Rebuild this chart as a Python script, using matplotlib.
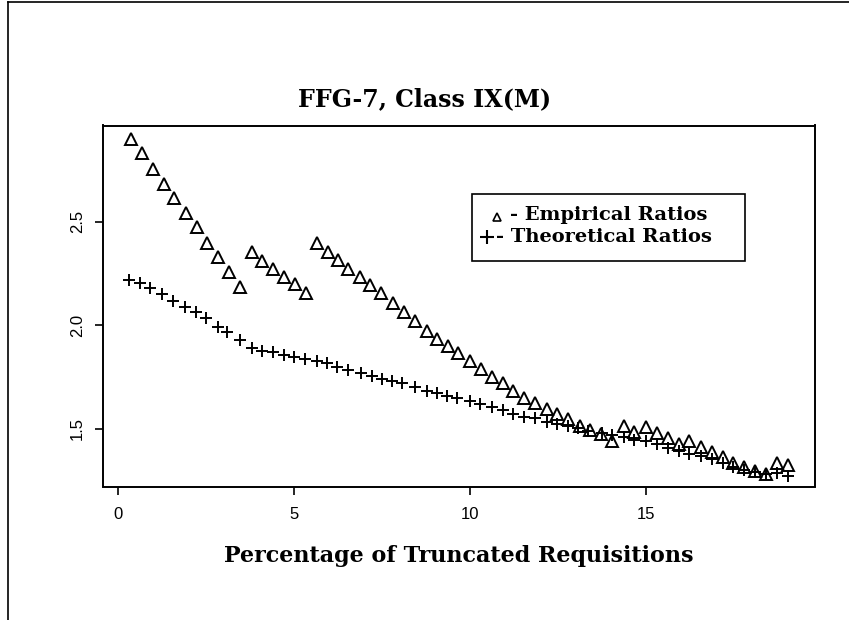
import matplotlib
matplotlib.use("Agg")
import matplotlib.pyplot as plt
from matplotlib.lines import Line2D
from matplotlib.patches import Rectangle

# percentage of truncated requisitions
EMP_X = [0.35, 0.68, 0.97, 1.30, 1.59, 1.92, 2.23, 2.51, 2.84, 3.13, 3.46,
         3.79, 4.07, 4.39, 4.69, 5.02, 5.33,
         5.64, 5.94, 6.23, 6.51, 6.85, 7.15, 7.45, 7.80, 8.10, 8.43, 8.76,
         9.06, 9.35, 9.66, 9.99, 10.30, 10.61, 10.92, 11.22, 11.53, 11.84,
         12.17, 12.47, 12.78, 13.10, 13.40, 13.70, 14.03, 14.35, 14.65,
         14.98, 15.30, 15.61, 15.92, 16.22, 16.55, 16.86, 17.17, 17.45,
         17.76, 18.09, 18.40, 18.70, 19.01]
EMP_Y = [2.899, 2.829, 2.754, 2.681, 2.612, 2.543, 2.472, 2.398, 2.330, 2.258, 2.185,
         2.354, 2.309, 2.271, 2.230, 2.197, 2.156,
         2.398, 2.354, 2.314, 2.269, 2.233, 2.193, 2.153, 2.105, 2.065, 2.020, 1.971,
         1.932, 1.900, 1.863, 1.826, 1.787, 1.750, 1.718, 1.681, 1.646, 1.622,
         1.593, 1.569, 1.544, 1.512, 1.495, 1.475, 1.441, 1.512, 1.485,
         1.509, 1.480, 1.456, 1.425, 1.441, 1.412, 1.385, 1.364, 1.335,
         1.313, 1.295, 1.280, 1.335, 1.322]

THEO_X = [0.31, 0.62, 0.90, 1.23, 1.56, 1.90, 2.20, 2.49, 2.82, 3.08, 3.46,
          3.79, 4.07, 4.39, 4.69, 4.99, 5.30, 5.64, 5.92, 6.22, 6.51, 6.89,
          7.20, 7.48, 7.77, 8.05, 8.43, 8.76, 9.05, 9.33, 9.63, 9.99, 10.28,
          10.61, 10.92, 11.20, 11.51, 11.84, 12.17, 12.45, 12.78, 13.07, 13.35,
          13.73, 14.03, 14.35, 14.65, 14.98, 15.30, 15.61, 15.92, 16.22, 16.55,
          16.86, 17.17, 17.45, 17.76, 18.09, 18.40, 18.70, 19.01]
THEO_Y = [2.217, 2.201, 2.177, 2.148, 2.117, 2.087, 2.062, 2.035, 1.992, 1.965, 1.928,
          1.887, 1.876, 1.868, 1.855, 1.847, 1.836, 1.826, 1.815, 1.796, 1.783, 1.767,
          1.754, 1.739, 1.731, 1.718, 1.699, 1.683, 1.670, 1.657, 1.646, 1.633, 1.618,
          1.602, 1.589, 1.570, 1.557, 1.549, 1.533, 1.522, 1.512, 1.501, 1.490,
          1.480, 1.469, 1.460, 1.444, 1.441, 1.425, 1.407, 1.391, 1.377, 1.367,
          1.351, 1.332, 1.316, 1.300, 1.291, 1.280, 1.284, 1.271]

X_TICKS = [0, 5, 10, 15]
Y_TICKS = [1.5, 2.0, 2.5]
TITLE = "FFG-7, Class IX(M)"
XLABEL = "Percentage of Truncated Requisitions"
LEG_LABELS = ["- Empirical Ratios", "- Theoretical Ratios"]

W, H = 849, 620
fig = plt.figure(figsize=(W / 100, H / 100), dpi=100)
ax = fig.add_axes([103.3 / W, 1 - 486.5 / H, (815 - 103.3) / W, (486.5 - 125.5) / H])

ax.plot(EMP_X, EMP_Y, linestyle="none", marker="^", markersize=8,
        markerfacecolor="none", markeredgecolor="black", markeredgewidth=1.4)
ax.plot(THEO_X, THEO_Y, linestyle="none", marker="+", markersize=9,
        color="black", markeredgewidth=1.4)

ax.set_xlim(-0.43, 19.79)
ax.set_ylim(1.22, 2.964)
ax.set_xticks(X_TICKS)
ax.set_xticklabels([str(t) for t in X_TICKS])
ax.set_yticks(Y_TICKS)
ax.set_yticklabels(["%.1f" % t for t in Y_TICKS], rotation=90, va="center")
tick_font = ["Liberation Sans Narrow", "Liberation Sans", "DejaVu Sans"]
for lab in ax.get_xticklabels() + ax.get_yticklabels():
    lab.set_family(tick_font)
    lab.set_fontsize(12)
ax.tick_params(axis="x", direction="out", length=6, width=1.2, pad=9)
ax.tick_params(axis="y", direction="out", length=6, width=1.2, pad=7)
for s in ax.spines.values():
    s.set_linewidth(1.4)

serif = ["DejaVu Serif"]
fig.text(0.5, 1 - 99 / H, TITLE, ha="center", va="center",
         fontsize=17, fontweight="bold", family=serif)
fig.text(459 / W, 1 - 556 / H, XLABEL, ha="center", va="center",
         fontsize=16, fontweight="bold", family=serif)

# legend box drawn by hand: symbol then text on each line
fig.add_artist(Rectangle((471.7 / W, 1 - 261 / H), (745 - 471.7) / W, (261 - 194.5) / H,
                         transform=fig.transFigure, fill=False,
                         edgecolor="black", linewidth=1.2))
fig.add_artist(Line2D([497 / W], [1 - 217 / H], transform=fig.transFigure,
                      linestyle="none", marker="^", markersize=6,
                      markerfacecolor="none", markeredgecolor="black", markeredgewidth=1.2))
fig.add_artist(Line2D([487 / W], [1 - 237 / H], transform=fig.transFigure,
                      linestyle="none", marker="+", markersize=10,
                      color="black", markeredgewidth=1.5))
fig.text(510 / W, 1 - 215 / H, LEG_LABELS[0], ha="left", va="center",
         fontsize=14, fontweight="bold", family=serif)
fig.text(496 / W, 1 - 237 / H, LEG_LABELS[1], ha="left", va="center",
         fontsize=14, fontweight="bold", family=serif)

# page frame left and top
fig.add_artist(Line2D([8 / W, 8 / W], [0, 1 - 2 / H], transform=fig.transFigure,
                      color="black", linewidth=1.2))
fig.add_artist(Line2D([8 / W, 1], [1 - 2 / H, 1 - 2 / H], transform=fig.transFigure,
                      color="black", linewidth=1.2))

fig.savefig("out.png", dpi=100)
